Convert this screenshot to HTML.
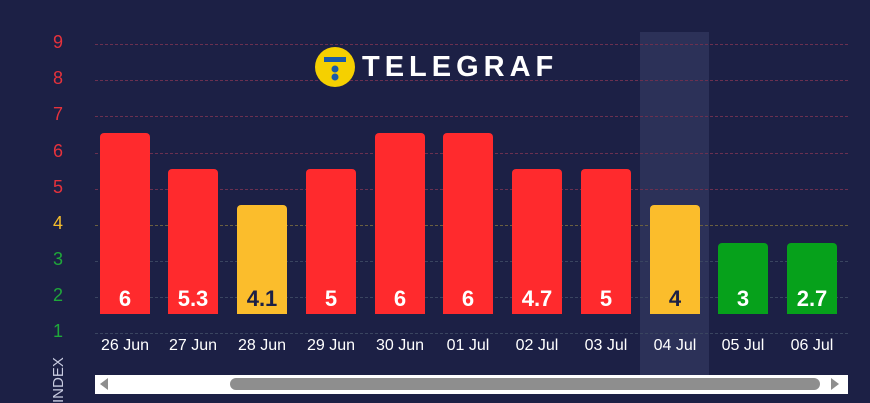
<!DOCTYPE html><html><head><style>
body{margin:0;width:870px;height:403px;background:#1c2045;overflow:hidden;font-family:"Liberation Sans",sans-serif;position:relative}
.a{position:absolute}
.g{position:absolute;left:95px;width:753px;border-top:1px dashed}
.y{position:absolute;left:50px;width:16px;text-align:center;font-size:18px}
.b{position:absolute;width:50px;border-radius:4px 4px 0 0;bottom:89px}
.v{position:absolute;width:50px;text-align:center;font-size:22px;font-weight:bold;color:#fff;top:286px}
.l{position:absolute;width:70px;text-align:center;font-size:16px;color:#fff;top:337px}
</style></head><body>
<div class="a" style="left:640px;top:32px;width:69px;height:346px;background:#2c3158"></div>
<div class="g" style="top:44px;border-color:#6b3050"></div>
<div class="g" style="top:80px;border-color:#6b3050"></div>
<div class="g" style="top:116px;border-color:#6b3050"></div>
<div class="g" style="top:153px;border-color:#6b3050"></div>
<div class="g" style="top:189px;border-color:#6b3050"></div>
<div class="g" style="top:225px;border-color:#6b6040"></div>
<div class="g" style="top:261px;border-color:#3a4560"></div>
<div class="g" style="top:297px;border-color:#3a4560"></div>
<div class="g" style="top:333px;border-color:#3a4560"></div>
<div class="y" style="top:32px;color:#e5323c">9</div>
<div class="y" style="top:68px;color:#e5323c">8</div>
<div class="y" style="top:104px;color:#e5323c">7</div>
<div class="y" style="top:141px;color:#e5323c">6</div>
<div class="y" style="top:177px;color:#e5323c">5</div>
<div class="y" style="top:213px;color:#f5bd2c">4</div>
<div class="y" style="top:249px;color:#1fa83a">3</div>
<div class="y" style="top:285px;color:#1fa83a">2</div>
<div class="y" style="top:321px;color:#1fa83a">1</div>
<div class="a" style="color:#c8cbe0;font-size:15px;transform:rotate(-90deg);transform-origin:0 0;top:403px;left:50px">INDEX</div>
<svg class="a" style="left:313px;top:45px" width="44" height="44"><circle cx="22" cy="22" r="20" fill="#f5d000"/><rect x="11" y="12" width="22" height="5" fill="#1a5aa8"/><circle cx="22" cy="24" r="3.5" fill="#1a5aa8"/><circle cx="22" cy="32" r="3.5" fill="#1a5aa8"/></svg>
<div class="a" style="left:362px;top:51px;color:#fff;font-size:29px;font-weight:bold;letter-spacing:5px">TELEGRAF</div>
<div class="b" style="left:100px;height:181px;background:#ff2a2d"></div>
<div class="b" style="left:168px;height:145px;background:#ff2a2d"></div>
<div class="b" style="left:237px;height:109px;background:#fbbd2c"></div>
<div class="b" style="left:306px;height:145px;background:#ff2a2d"></div>
<div class="b" style="left:375px;height:181px;background:#ff2a2d"></div>
<div class="b" style="left:443px;height:181px;background:#ff2a2d"></div>
<div class="b" style="left:512px;height:145px;background:#ff2a2d"></div>
<div class="b" style="left:581px;height:145px;background:#ff2a2d"></div>
<div class="b" style="left:650px;height:109px;background:#fbbd2c"></div>
<div class="b" style="left:718px;height:71px;background:#06a11b"></div>
<div class="b" style="left:787px;height:71px;background:#06a11b"></div>
<div class="v" style="left:100px">6</div><div class="v" style="left:168px">5.3</div><div class="v" style="left:237px;color:#1c2045">4.1</div><div class="v" style="left:306px">5</div><div class="v" style="left:375px">6</div><div class="v" style="left:443px">6</div><div class="v" style="left:512px">4.7</div><div class="v" style="left:581px">5</div><div class="v" style="left:650px;color:#1c2045">4</div><div class="v" style="left:718px">3</div><div class="v" style="left:787px">2.7</div>
<div class="l" style="left:90px">26 Jun</div><div class="l" style="left:158px">27 Jun</div><div class="l" style="left:227px">28 Jun</div><div class="l" style="left:296px">29 Jun</div><div class="l" style="left:365px">30 Jun</div><div class="l" style="left:433px">01 Jul</div><div class="l" style="left:502px">02 Jul</div><div class="l" style="left:571px">03 Jul</div><div class="l" style="left:640px">04 Jul</div><div class="l" style="left:708px">05 Jul</div><div class="l" style="left:777px">06 Jul</div>
<div class="a" style="left:95px;top:375px;width:753px;height:19px;background:#fff"></div>
<div class="a" style="left:230px;top:378px;width:590px;height:12px;background:#8e8e8e;border-radius:6px"></div>
<svg class="a" style="left:99px;top:378px" width="10" height="12"><polygon points="9,0 9,12 1,6" fill="#8e8e8e"/></svg>
<svg class="a" style="left:830px;top:378px" width="10" height="12"><polygon points="1,0 1,12 9,6" fill="#8e8e8e"/></svg>
</body></html>
